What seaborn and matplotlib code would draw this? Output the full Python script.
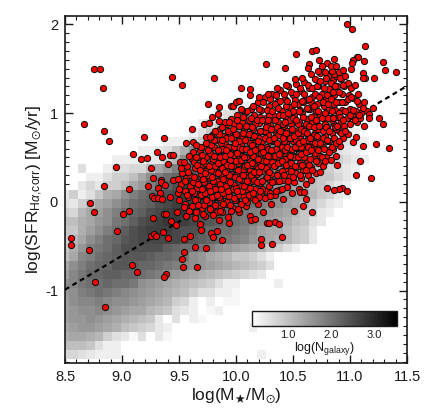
import matplotlib
matplotlib.use("Agg")
import matplotlib.pyplot as plt
from matplotlib.cm import ScalarMappable
from matplotlib.colors import Normalize
import numpy as np
import pandas as pd
import seaborn as sns

# grey background: log(N_galaxy) in tenths, base 36 per cell, bottom row first
density_rows = [
    "6654333" + "0" * 16 + "3",
    "9998533",
    "bccba75425042",
    "cdeedcb98764300" + "0" * 7 + "3",
    "deefedcba98405032",
    "deffgfedcca98543023",
    "dfgghgffedcba76303022",
    "efhijihgfedcba9755332",
    "fgijjkjjifedcba987533" + "0000" + "3",
    "dgikkllkkjihfedcba987654",
    "cfhjkkmmlkkjihgfedcba9875",
    "9cghjklmmmlkkjifecba88753",
    "8behijlnnnnnlkjjihfedcba8753",
    "7acfhjkmnooooonmlkjihgedcba874",
    "88bdfhjlnoppponnlkjjihfdcca874",
    "99bcefijlnopqqponmlkjihfdcb9854",
    "76acdfhjklnopqqponlkjihgedca8743",
    "5479cdfhjklnopppponlkkjhgfdca8643",
    "47358bcfhjklnopppoonlkjjhgedca8743",
    "00464779cehjlnoppoonlkkjhfecb98643",
    "000335779cfhjklmnoonmlkjjhfdca88643",
    "00500355669cehjkmnnmlkkjhfdcb987543",
    "0000003333447afhjklmmlkjjhfdca987543",
    "00000000033458bfhjkllkjihfdca987543",
    "00000000000033358begijjihgecb9876543",
    "000000000000000358cfghgfeca98754333",
    "0000000000000000358acdcba87543333",
    "000000000000000000356776533333",
    "00000000000000000000333",
]

line_mass = [8.5, 11.5]
line_sfr = [-0.99, 1.305]

# points read one by one, low mass side and outliers
sparse_low = [
    (8.75, 1.50), (8.81, 1.50), (8.83, 1.28), (8.67, 0.88), (8.84, 0.80), (8.89, 0.68), (8.95, 0.39), (8.84, 0.18),
    (8.72, -0.01), (9.06, 0.15), (9.10, 0.54), (9.17, 0.48), (9.22, 0.49), (9.19, 0.73), (9.37, 0.72), (9.44, 1.41),
    (9.53, 1.32), (9.81, 1.39), (9.31, 0.56), (9.35, 0.50), (9.42, 0.53), (9.45, 0.53), (9.40, 0.43), (9.25, 0.38),
    (9.27, 0.27), (9.23, 0.18), (9.34, 0.25), (9.34, 0.22), (9.38, 0.19), (9.32, 0.16), (9.33, 0.10), (9.26, 0.06),
    (9.28, 0.04), (9.32, 0.04), (9.35, 0.03), (9.42, 0.05), (9.45, 0.25), (9.49, 0.26), (9.51, 0.45), (9.54, 0.45),
    (8.75, -0.12), (9.01, -0.14), (9.06, -0.10), (9.27, -0.18), (9.37, -0.14), (9.39, -0.135), (9.48, -0.11),
    (9.43, -0.22), (9.47, -0.26), (9.56, -0.16), (8.96, -0.33), (8.55, -0.41), (8.555, -0.49), (8.71, -0.545),
    (9.25, -0.39), (9.28, -0.36), (9.30, -0.38), (9.36, -0.345), (9.40, -0.41), (9.54, -0.42), (9.60, -0.39),
    (9.69, -0.32), (9.68, -0.25), (9.78, -0.355), (9.80, -0.40), (9.83, -0.33), (9.64, -0.51), (9.74, -0.525),
    (9.54, -0.57), (9.53, -0.645), (9.535, -0.735), (9.66, -0.73), (9.09, -0.715), (9.13, -0.79), (9.39, -0.815),
    (9.37, -0.85), (8.765, -0.905), (8.85, -1.18), (9.75, 1.10), (9.85, 1.07), (9.96, 1.08), (9.97, 1.08),
    (10.02, 1.135), (10.05, 1.04), (9.79, 0.96), (9.845, 0.985), (9.72, 0.88), (9.76, 0.89), (9.855, 0.915),
    (9.61, 0.82), (9.74, 0.73), (9.77, 0.73), (9.56, 0.66), (9.625, 0.67), (9.65, 0.64),
]

sparse_high = [
    (10.97, 2.00), (11.02, 1.95), (11.13, 1.76), (10.53, 1.665), (10.67, 1.70), (10.70, 1.71), (10.26, 1.55),
    (10.43, 1.51), (10.73, 1.60), (10.80, 1.57), (10.86, 1.61), (11.06, 1.63), (11.07, 1.63), (11.03, 1.60),
    (11.02, 1.57), (11.12, 1.59), (11.29, 1.58), (11.31, 1.49), (11.40, 1.46), (11.21, 1.40), (11.01, 1.50),
    (10.94, 1.49), (11.11, 1.45), (11.11, 1.39), (10.64, 1.55), (10.63, 1.51), (10.75, 1.53), (10.83, 1.53),
    (10.88, 1.53), (10.04, 1.28), (10.12, 1.27), (10.12, 1.20), (10.00, 1.13), (10.03, 1.14), (10.04, 1.045),
    (11.20, 1.06), (11.25, 0.95), (11.29, 0.88), (11.17, 0.985), (11.165, 0.945), (11.125, 0.85), (11.11, 1.06),
    (11.11, 0.63), (11.23, 0.65), (11.34, 0.61), (11.09, 0.46), (11.05, 0.30), (11.18, 0.27), (10.89, 0.41),
    (10.93, 0.16), (10.90, 0.15), (10.86, 0.13), (10.97, 0.12), (10.80, 0.16), (10.59, -0.05), (10.61, 0.03),
    (10.56, 0.11), (10.60, 0.11), (10.74, 0.34), (11.03, 0.67), (11.05, 0.725), (10.67, -0.12), (10.51, -0.10),
    (10.40, -0.40), (10.22, -0.42), (10.22, -0.49), (10.32, -0.48), (10.345, -0.225), (10.38, -0.25),
    (10.27, -0.24), (10.29, -0.24), (9.88, -0.43), (9.94, -0.24), (10.13, -0.21), (10.17, -0.19),
]

# dense cloud, left to right
cloud_a = [
    (9.49, .10), (9.50, .02), (9.52, .20), (9.53, .33), (9.55, .12), (9.55, -.02), (9.56, .27), (9.57, .40), (9.58, .05),
    (9.60, .18), (9.60, .30), (9.61, .48), (9.61, -.05), (9.62, .56), (9.63, .10), (9.64, .38), (9.65, .24), (9.65, -.12),
    (9.66, .02), (9.67, .50), (9.68, .58), (9.68, .15), (9.69, .31), (9.70, -.07), (9.70, .42), (9.71, .06), (9.72, .62),
    (9.72, .22), (9.73, -.16), (9.74, .50), (9.74, .35), (9.75, .12), (9.76, .00), (9.76, .68), (9.77, .27), (9.77, .55),
    (9.78, .43), (9.79, -.10), (9.79, .18), (9.80, .76), (9.80, .07), (9.81, .34), (9.81, .62), (9.82, -.04), (9.83, .50),
    (9.83, .24), (9.84, .70), (9.84, .12), (9.85, -.20), (9.85, .40), (9.86, .82), (9.86, .03), (9.87, .58), (9.87, .30),
    (9.88, -.12), (9.88, .17), (9.89, .46), (9.89, .74), (9.90, .65), (9.90, .08), (9.91, .36), (9.91, -.03), (9.92, .88),
    (9.92, .54), (9.93, .23), (9.93, -.17), (9.94, .78), (9.94, .43), (9.95, .12), (9.95, .62), (9.96, .31), (9.96, .93),
    (9.97, -.07), (9.97, .50), (9.98, .70), (9.98, .19), (9.99, .85), (9.99, .38), (10.00, .02), (10.00, .58), (10.01, .27),
    (10.01, .98), (10.02, .44), (10.02, .75), (10.03, -.12), (10.03, .12), (10.04, .65), (10.04, .33), (10.05, .90),
    (10.05, .52), (10.06, .06), (10.06, .22), (10.07, .80), (10.07, .40), (10.08, 1.00), (10.08, .60), (10.09, -.05),
    (10.09, .30), (10.10, .71), (10.10, .14), (10.11, .48), (10.11, .92), (10.12, .36), (10.12, -.16), (10.13, .56),
    (10.13, 1.05), (10.14, .05), (10.14, .24), (10.15, .82), (10.15, .66), (10.16, .42), (10.16, .98), (10.17, .15),
    (10.17, .50), (10.18, .31), (10.18, .74), (10.19, 1.12), (10.19, -.02), (10.20, .60), (10.20, .89), (10.21, .21),
    (10.21, .44), (10.22, 1.03), (10.22, .08), (10.23, .68), (10.23, .35), (10.24, .80), (10.24, -.11), (10.25, .53),
    (10.25, 1.18), (10.26, .27), (10.26, .95), (10.27, .12), (10.27, .62), (10.28, .41), (10.28, .75), (10.29, 1.08),
]

cloud_b = [
    (10.29, .18), (10.30, .87), (10.30, .50), (10.31, -.03), (10.31, .31), (10.32, 1.22), (10.32, .68), (10.33, .58),
    (10.33, .97), (10.34, .08), (10.34, .40), (10.35, .79), (10.35, .23), (10.36, 1.12), (10.36, .51), (10.37, .90),
    (10.37, .33), (10.38, .13), (10.38, .64), (10.39, 1.26), (10.39, .44), (10.40, 1.02), (10.40, .74), (10.41, .25),
    (10.41, .03), (10.42, .55), (10.42, .85), (10.43, 1.16), (10.43, .37), (10.44, .66), (10.44, .95), (10.45, .17),
    (10.45, .48), (10.46, 1.30), (10.46, .76), (10.47, .29), (10.47, 1.07), (10.48, .58), (10.48, .88), (10.49, .10),
    (10.49, .40), (10.50, 1.20), (10.50, .68), (10.51, .98), (10.51, .22), (10.52, .52), (10.52, .80), (10.53, 1.33),
    (10.53, .33), (10.54, 1.10), (10.54, .62), (10.55, .15), (10.55, .90), (10.56, .44), (10.56, .72), (10.57, 1.25),
    (10.57, .27), (10.58, 1.00), (10.58, .55), (10.59, .83), (10.59, .36), (10.60, 1.35), (10.60, .65), (10.61, .20),
    (10.61, 1.15), (10.62, .47), (10.62, .93), (10.63, .75), (10.63, .30), (10.64, 1.28), (10.64, .57), (10.65, 1.05),
    (10.65, .86), (10.66, .39), (10.66, .25), (10.67, .68), (10.67, 1.18), (10.68, .50), (10.68, .97), (10.69, 1.38),
    (10.69, .78), (10.70, .33), (10.70, .60), (10.71, 1.10), (10.71, .88), (10.72, .44), (10.72, 1.30), (10.73, .70),
    (10.73, 1.00), (10.74, .52), (10.74, 1.45), (10.75, .82), (10.75, 1.22), (10.76, .40), (10.76, .62), (10.77, 1.08),
    (10.77, .93), (10.78, 1.36), (10.78, .74), (10.79, .50), (10.79, 1.16), (10.80, .86), (10.80, 1.02), (10.81, .58),
    (10.81, 1.42), (10.82, .68), (10.82, 1.27), (10.83, .95), (10.83, .47), (10.84, 1.12), (10.84, .78), (10.85, 1.37),
    (10.85, .60), (10.86, .88), (10.86, 1.20), (10.87, 1.04), (10.87, .70), (10.88, 1.42), (10.88, .52), (10.89, .96),
    (10.89, 1.30), (10.90, .80), (10.90, 1.12), (10.91, .63), (10.92, 1.38), (10.92, .90), (10.93, 1.22), (10.93, 1.03),
    (10.94, .72), (10.95, 1.30), (10.95, .85), (10.96, 1.13), (10.97, .95), (10.98, 1.34), (10.98, .76), (10.99, 1.20),
    (11.00, 1.05), (11.00, .88), (11.01, 1.28), (11.02, .98), (11.03, 1.17), (11.04, 1.32), (11.05, 1.02), (11.06, .90),
    (11.07, 1.22), (11.08, 1.10), (11.09, .95), (11.10, 1.00), (11.12, 1.12), (11.13, 1.40), (11.15, 1.02),
]

# later passes so the core is solid red
cloud_core = [
    (9.88, .60), (9.92, .30), (9.95, .47), (9.98, .53), (10.00, .30), (10.02, .62), (10.03, .48), (10.04, .18),
    (10.05, .72), (10.06, .37), (10.07, .60), (10.08, .20), (10.09, .50), (10.10, .85), (10.11, .28), (10.12, .66),
    (10.13, .42), (10.14, .75), (10.15, .52), (10.16, .25), (10.17, .88), (10.18, .60), (10.19, .38), (10.20, .72),
    (10.21, .96), (10.22, .55), (10.23, .15), (10.24, .46), (10.25, .80), (10.26, .38), (10.27, .88), (10.28, .60),
    (10.29, .98), (10.30, .25), (10.31, .70), (10.32, .45), (10.33, .82), (10.34, 1.10), (10.35, .60), (10.36, .30),
    (10.37, .75), (10.38, .98), (10.39, .55), (10.40, .35), (10.41, .88), (10.42, .68), (10.43, .48), (10.44, 1.08),
    (10.45, .80), (10.46, .60), (10.47, .92), (10.48, .35), (10.49, .72), (10.50, 1.02), (10.51, .50), (10.52, 1.15),
    (10.53, .70), (10.54, .88), (10.55, .40), (10.56, 1.03), (10.57, .62), (10.58, .78), (10.59, 1.12), (10.60, .50),
    (10.61, .88), (10.62, .70), (10.63, 1.05), (10.64, .42), (10.65, .62), (10.66, 1.12), (10.67, .90), (10.68, .75),
    (10.69, .55), (10.70, 1.02), (10.72, .82), (10.74, .98), (10.76, .72), (10.78, .88), (10.80, .68), (10.82, 1.05),
    (10.84, .92), (10.86, 1.10), (10.88, .82), (10.90, 1.00), (10.40, .15), (10.30, .10), (10.20, .05), (10.10, .00),
]

cloud_fill_left = [
    (9.62, .22), (9.63, .45), (9.64, .02), (9.66, .16), (9.66, .42), (9.68, .36), (9.69, .08), (9.70, .53), (9.71, .26),
    (9.72, -.04), (9.73, .44), (9.73, .10), (9.75, .30), (9.75, .58), (9.76, .18), (9.77, -.08), (9.78, .36), (9.78, .64),
    (9.79, .05), (9.80, .48), (9.80, .24), (9.81, .70), (9.82, .14), (9.82, .40), (9.83, -.12), (9.84, .58), (9.84, .32),
    (9.85, .05), (9.85, .76), (9.86, .20), (9.86, .50), (9.87, .66), (9.87, -.06), (9.88, .38), (9.88, .84), (9.89, .10),
    (9.89, .26), (9.90, .52), (9.90, .90), (9.91, .72), (9.91, .18), (9.92, .42), (9.92, .00), (9.93, .62), (9.93, .80),
    (9.94, .30), (9.94, .06), (9.95, .54), (9.95, .22), (9.96, .72), (9.96, -.10), (9.97, .40), (9.97, .14), (9.98, .88),
    (9.98, .62), (9.99, .28), (9.99, .02), (10.00, .46), (10.00, .76), (10.00, .16), (10.01, .92), (10.01, .55), (10.02, .36),
    (10.02, .08), (10.03, .68), (10.03, .26), (10.03, .86), (10.04, .47), (10.04, -.02), (10.05, .60), (10.05, .12),
    (10.06, .78), (10.06, .30), (10.06, .96), (10.07, .50), (10.07, .18), (10.08, .70), (10.08, .40), (10.08, .02),
    (10.09, .86), (10.09, .60), (10.10, .24), (10.10, 1.02), (10.10, .42), (10.11, .08), (10.11, .76), (10.12, .56),
    (10.12, .16), (10.13, .94), (10.13, .30), (10.14, .64), (10.14, .44), (10.14, .84), (10.15, 1.08), (10.15, .10),
    (10.16, .34), (10.16, .74), (10.17, .58), (10.17, .02), (10.18, .92), (10.18, .22), (10.19, .48), (10.19, .68),
    (10.20, 1.05), (10.20, .34), (10.21, .80), (10.21, .12), (10.22, .62), (10.22, .40), (10.23, .92), (10.23, .24),
    (10.24, 1.12), (10.24, .56), (10.25, .72), (10.25, .04), (10.26, .46), (10.26, .84), (10.27, 1.04), (10.27, .28),
    (9.50, .14), (9.52, .38), (9.54, -.06), (9.55, .24), (9.57, .08), (9.58, .34), (9.59, -.10), (9.59, .52), (9.61, .12),
    (9.63, .28), (9.64, -.18), (9.65, .50), (9.67, .20), (9.67, -.04), (9.69, .62), (9.70, .14), (9.71, .46), (9.71, -.14),
    (9.73, .32), (9.74, .02), (9.74, .66), (9.76, .40), (9.77, .12), (9.78, .74), (9.79, .28), (9.80, -.15), (9.81, .52),
    (9.82, .80), (9.83, .08), (9.84, .44), (9.86, -.10), (9.87, .14), (9.88, .70), (9.89, -.02), (9.90, .34), (9.91, .58),
    (9.93, .12), (9.94, .90), (9.95, -.04), (9.96, .40), (9.97, .82), (9.98, .04), (9.99, .66), (10.01, .12), (10.02, -.08),
]

cloud_fill_right = [
    (10.28, .52), (10.28, .92), (10.29, .70), (10.29, .34), (10.30, 1.16), (10.30, .06), (10.31, .58), (10.31, .82),
    (10.32, .22), (10.32, 1.02), (10.33, .40), (10.33, .72), (10.34, .52), (10.34, .92), (10.35, 1.20), (10.35, .12),
    (10.36, .66), (10.36, .84), (10.37, .44), (10.37, 1.06), (10.38, .24), (10.38, .54), (10.39, .80), (10.39, 1.14),
    (10.40, .46), (10.40, .62), (10.41, .98), (10.41, .72), (10.42, .30), (10.42, 1.22), (10.43, .58), (10.43, .90),
    (10.44, .42), (10.44, .78), (10.45, 1.14), (10.45, .62), (10.46, .24), (10.46, 1.00), (10.47, .52), (10.47, .72),
    (10.48, 1.24), (10.48, .44), (10.49, .82), (10.49, .60), (10.50, .94), (10.50, .28), (10.51, 1.10), (10.51, .74),
    (10.52, .40), (10.52, .62), (10.53, .92), (10.53, 1.22), (10.54, .50), (10.54, .78), (10.55, 1.02), (10.55, .66),
    (10.56, .30), (10.56, 1.28), (10.57, .82), (10.57, .54), (10.58, .42), (10.58, 1.14), (10.59, .68), (10.59, .96),
    (10.60, .80), (10.60, 1.22), (10.61, .56), (10.61, .36), (10.62, 1.06), (10.62, .78), (10.63, .62), (10.63, 1.32),
    (10.64, .86), (10.64, 1.16), (10.65, .48), (10.65, .72), (10.66, .96), (10.66, .58), (10.67, 1.28), (10.67, .36),
    (10.68, .84), (10.68, 1.08), (10.69, .66), (10.69, 1.22), (10.70, .92), (10.70, .46), (10.71, .74), (10.71, 1.30),
    (10.72, .58), (10.72, 1.02), (10.73, .86), (10.73, 1.18), (10.74, .66), (10.74, 1.36), (10.75, .94), (10.75, .50),
    (10.76, 1.12), (10.76, .80), (10.77, 1.28), (10.77, .60), (10.78, 1.00), (10.78, .46), (10.79, .84), (10.79, 1.40),
    (10.80, 1.20), (10.80, .70), (10.81, .94), (10.81, 1.10), (10.82, .80), (10.82, .56), (10.83, 1.34), (10.83, 1.16),
    (10.84, 1.02), (10.84, .62), (10.85, .94), (10.85, 1.24), (10.86, .72), (10.86, 1.44), (10.87, .84), (10.87, 1.30),
    (10.88, 1.12), (10.88, .66), (10.89, .86), (10.90, 1.24), (10.90, .68), (10.91, .96), (10.91, 1.40), (10.92, .78),
    (10.93, 1.12), (10.94, .92), (10.94, 1.32), (10.96, 1.02), (10.96, .80), (10.98, 1.16), (11.00, .98), (11.01, 1.18),
    (11.03, 1.04), (11.04, .92), (11.06, 1.14), (11.08, .98), (10.20, 1.18), (10.28, 1.22), (10.36, 1.28), (10.44, 1.32),
    (10.52, 1.38), (10.58, 1.40), (10.66, 1.44), (10.72, 1.48), (10.78, 1.46), (10.84, 1.48), (10.90, 1.46), (10.96, 1.42),
]

colorbar_ticks = [1.0, 2.0, 3.0]
x_ticks = [8.5, 9.0, 9.5, 10.0, 10.5, 11.0, 11.5]
y_ticks = [-1, 0, 1, 2]

sns.set_theme(style="ticks")
plt.rcParams["font.family"] = ["Liberation Sans", "DejaVu Sans"]
plt.rcParams["mathtext.fontset"] = "custom"
plt.rcParams["mathtext.rm"] = "Liberation Sans"
plt.rcParams["mathtext.it"] = "Liberation Sans:italic"
plt.rcParams["mathtext.fallback"] = "stixsans"
plt.rcParams["axes.unicode_minus"] = False

ink = "#1a1a1a"
fig = plt.figure(figsize=(4.42, 4.16), dpi=100)
ax = fig.add_axes([65 / 442, 52.7 / 416, 342 / 442, 347.8 / 416])

density = np.array([[int(c, 36) / 10 for c in row.ljust(40, "0")] for row in density_rows])
density = np.ma.masked_equal(density, 0)
x_edges = 8.4625 + 0.075 * np.arange(density.shape[1] + 1)
y_edges = -1.77 + 0.1 * np.arange(density.shape[0] + 1)
ax.pcolormesh(x_edges, y_edges, density, cmap="gray_r", vmin=0.1, vmax=3.3, linewidth=0, rasterized=True)

sns.lineplot(x=line_mass, y=line_sfr, color="black", linewidth=1.6, dashes=(2.2, 1.7), ax=ax, zorder=3)

points = cloud_a + cloud_b + cloud_core + cloud_fill_left + cloud_fill_right + sparse_low + sparse_high
galaxies = pd.DataFrame(points, columns=["mass", "sfr"])
sns.scatterplot(data=galaxies, x="mass", y="sfr", color="#ff0000", edgecolor="#101010", s=20, linewidth=0.75,
                ax=ax, legend=False, zorder=4)

ax.set_xlim(8.5, 11.5)
ax.set_ylim(-1.82, 2.1)
ax.set_xticks(x_ticks)
ax.set_xticklabels([f"{t:.1f}" for t in x_ticks])
ax.set_yticks(y_ticks)
ax.set_xticks(np.arange(8.5, 11.51, 0.1), minor=True)
ax.set_yticks(np.arange(-1.8, 2.01, 0.1), minor=True)
ax.tick_params(which="major", direction="in", length=6, width=1, top=True, right=True, colors=ink, labelsize=10.5, pad=5)
ax.tick_params(which="minor", direction="in", length=3, width=0.8, top=True, right=True, color=ink)
for spine in ax.spines.values():
    spine.set_linewidth(1.2)
    spine.set_color(ink)
ax.set_xlabel(r"log(M$_{\bigstar}$/M$_{\odot}$)", fontsize=12.5, color=ink, labelpad=2)
ax.set_ylabel(r"log(SFR$_{\mathrm{H}\alpha{,}\mathrm{corr}}$) [M$_{\odot}$/yr]", fontsize=12.5, color=ink, labelpad=0)

cax = ax.inset_axes([(251.7 - 65) / 342, (363.3 - 326) / 347.8, 145.3 / 342, 15.3 / 347.8])
cbar = fig.colorbar(ScalarMappable(Normalize(0.17, 3.52), "gray_r"), cax=cax, orientation="horizontal")
cbar.set_ticks(colorbar_ticks)
cbar.set_ticklabels([f"{t:.1f}" for t in colorbar_ticks])
cax.set_xticks(np.arange(0.2, 3.51, 0.1), minor=True)
cax.tick_params(which="major", direction="in", length=5, width=0.7, labelsize=8, pad=3, colors=ink)
cax.tick_params(which="minor", direction="in", length=2.5, width=0.6, color=ink)
cbar.outline.set_linewidth(1)
cbar.outline.set_edgecolor(ink)
cbar.set_label(r"log(N$_{\mathrm{galaxy}}$)", fontsize=9, color=ink, labelpad=0)

fig.savefig("out.png", dpi=100)
